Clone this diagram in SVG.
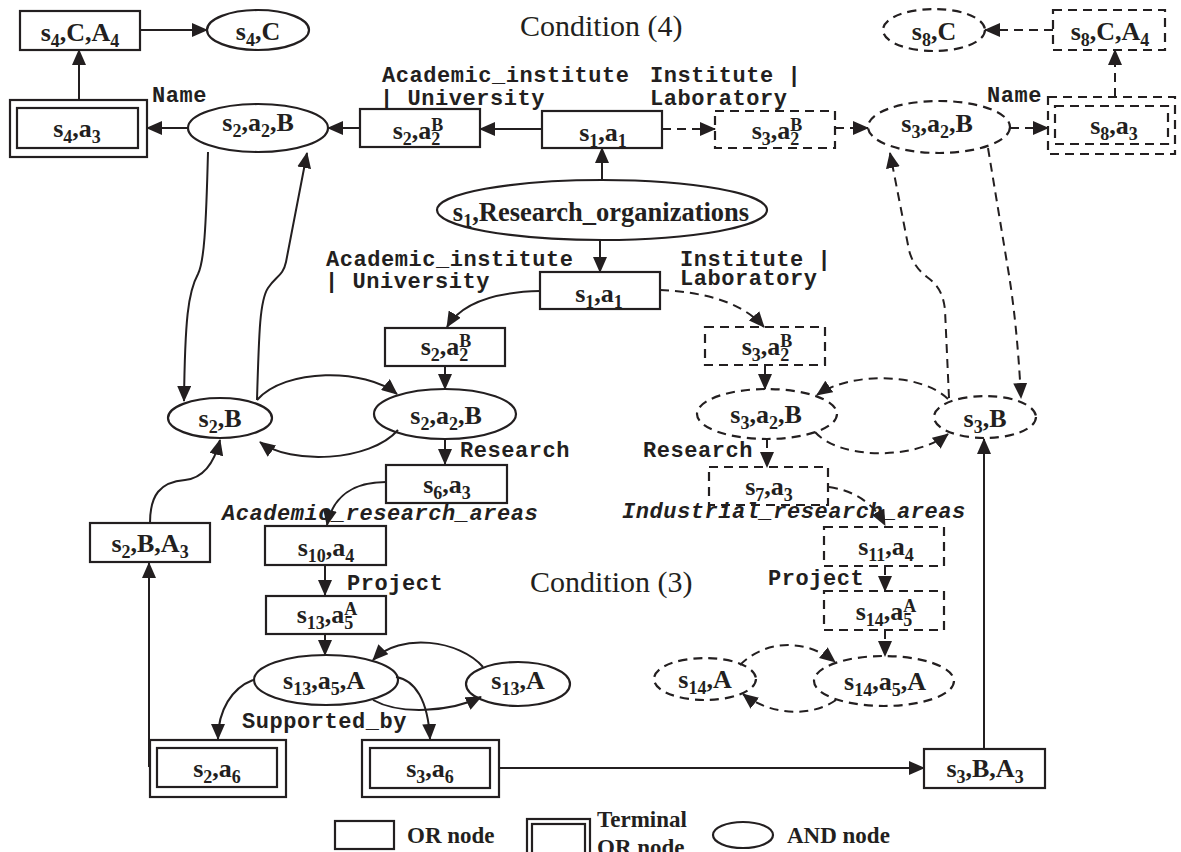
<svg xmlns="http://www.w3.org/2000/svg" width="1181" height="852" viewBox="0 0 1181 852">
<style>
.n{fill:none;stroke:#231f20;stroke-width:2.2}
.d{stroke-dasharray:9 6}
.c{fill:none;stroke:#231f20;stroke-width:2;marker-end:url(#a)}
.l{fill:none;stroke:#231f20;stroke-width:2}
.t{font-family:"Times New Roman","Liberation Serif",serif;font-weight:bold;font-size:26px;fill:#231f20;text-anchor:middle}
.s{font-size:18px}
.m{font-family:"Courier New","Liberation Mono",monospace;font-weight:bold;font-size:22px;letter-spacing:0.55px;fill:#231f20}
.i{font-style:italic}
.cond{font-family:"Times New Roman","Liberation Serif",serif;font-size:30px;fill:#231f20}
.lg{font-family:"Times New Roman","Liberation Serif",serif;font-weight:bold;font-size:23px;fill:#231f20}
</style>
<defs>
<marker id="a" markerWidth="16" markerHeight="14" refX="15" refY="7" orient="auto" markerUnits="userSpaceOnUse"><path d="M0,0 L16,7 L0,14 z" fill="#231f20"/></marker>
</defs>
<rect width="1181" height="852" fill="#fff"/>

<g id="labels">
<text class="cond" x="520" y="36">Condition (4)</text>
<text class="cond" x="530" y="592">Condition (3)</text>
<text class="m" x="382" y="82">Academic_institute</text>
<text class="m" x="380" y="105">| University</text>
<text class="m" x="650" y="82">Institute |</text>
<text class="m" x="650" y="105">Laboratory</text>
<text class="m" x="152" y="102">Name</text>
<text class="m" x="987" y="102">Name</text>
<text class="m" x="326" y="266">Academic_institute</text>
<text class="m" x="325" y="288">| University</text>
<text class="m" x="680" y="266">Institute |</text>
<text class="m" x="680" y="285">Laboratory</text>
<text class="m" x="460" y="457">Research</text>
<text class="m" x="643" y="457">Research</text>
<text class="m i" x="222" y="520">Academic_research_areas</text>
<text class="m i" x="622" y="518">Industrial_research_areas</text>
<text class="m" x="347" y="590">Project</text>
<text class="m" x="768" y="585">Project</text>
<text class="m" x="242" y="728">Supported_by</text>
</g>

<g id="connectors">
<path class="c" d="M140,30 L207,30"/>
<path class="c" d="M79,100 L79,50"/>
<path class="c" d="M187,128 L147,128"/>
<path class="c" d="M360,128 L328,128"/>
<path class="c" d="M542,129 L480,129"/>
<path class="c" d="M602,180 L602,148"/>
<path class="c d" d="M662,129 L715,129"/>
<path class="c d" d="M835,128 L868,128"/>
<path class="c d" d="M1010,128 L1048,128"/>
<path class="c d" d="M1115,97 L1115,50"/>
<path class="c d" d="M1053,30 L985,30"/>
<path class="c" d="M600,240 L600,272"/>
<path class="c" d="M208,152 C206,230 204,262 198,274 C188,292 185,320 184,401"/>
<path class="c" d="M257,400 C259,330 260,300 268,288 C276,276 283,276 286,262 L307,153"/>
<path class="c" d="M257,400 C285,368 365,368 397,394"/>
<path class="c" d="M398,430 C370,462 290,465 260,442"/>
<path class="c" d="M540,291 C495,292 462,302 447,327"/>
<path class="c" d="M445,366 L445,389"/>
<path class="c" d="M445,439 L445,464"/>
<path class="c" d="M386,482 C355,482 333,495 327,525"/>
<path class="c" d="M325,565 L325,595"/>
<path class="c" d="M325,634 L325,655"/>
<path class="c" d="M483,667 C460,640 400,632 373,660"/>
<path class="c" d="M373,700 C400,715 450,712 481,697"/>
<path class="c" d="M253,680 C232,688 218,710 218,739"/>
<path class="c" d="M396,677 C415,680 428,700 430,739"/>
<path class="c" d="M149,767 L149,563"/>
<path class="c" d="M150,523 C150,495 160,482 185,480 C205,478 215,460 220,440"/>
<path class="c" d="M499,768 L924,768"/>
<path class="c" d="M984,749 L984,439"/>
<path class="c d" d="M660,290 C700,292 740,300 764,327"/>
<path class="c d" d="M765,365 L765,389"/>
<path class="c d" d="M948,399 C920,372 850,372 817,395"/>
<path class="c d" d="M815,432 C840,460 915,460 948,434"/>
<path class="c d" d="M949,398 L945,310 C943,290 935,283 927,277 C918,270 912,262 909,250 L890,153"/>
<path class="c d" d="M988,148 L1009,275 C1013,300 1018,340 1021,398"/>
<path class="c d" d="M767,439 L767,467"/>
<path class="c d" d="M829,487 C850,490 872,500 885,525"/>
<path class="c d" d="M885,566 L885,591"/>
<path class="c d" d="M885,630 L885,656"/>
<path class="c d" d="M740,665 C765,640 805,638 835,662"/>
<path class="c d" d="M836,700 C810,718 770,715 743,694"/>
</g>

<g id="n_s4CA4"><rect class="n" x="20" y="11" width="120" height="39"/><text class="t" x="80" y="41">s<tspan class="s" dy="6">4</tspan><tspan dy="-6">,C,A</tspan><tspan class="s" dy="6">4</tspan></text></g>
<g id="n_s4C"><ellipse class="n" cx="258" cy="30" rx="51" ry="20"/><text class="t" x="258" y="40">s<tspan class="s" dy="6">4</tspan><tspan dy="-6">,C</tspan></text></g>
<g id="n_s4a3"><rect class="n" x="10" y="100" width="137" height="57"/><rect class="n" x="17" y="108" width="121" height="40"/><text class="t" x="77" y="137">s<tspan class="s" dy="6">4</tspan><tspan dy="-6">,a</tspan><tspan class="s" dy="6">3</tspan></text></g>
<g id="n_s2a2B_top"><ellipse class="n" cx="258" cy="128" rx="70" ry="24"/><text class="t" x="258" y="131">s<tspan class="s" dy="6">2</tspan><tspan dy="-6">,a</tspan><tspan class="s" dy="6">2</tspan><tspan dy="-6">,B</tspan></text></g>
<g id="n_s2a2b_top"><rect class="n" x="360" y="109" width="120" height="38"/><text class="t" x="418" y="139">s<tspan class="s" dy="6">2</tspan><tspan dy="-6">,a</tspan><tspan class="s" dy="6">2</tspan><tspan class="s" dx="-9" dy="-14">B</tspan></text></g>
<g id="n_s1a1_top"><rect class="n" x="542" y="111" width="120" height="37"/><text class="t" x="603" y="141">s<tspan class="s" dy="6">1</tspan><tspan dy="-6">,a</tspan><tspan class="s" dy="6">1</tspan></text></g>
<g id="n_s3a2b_top"><rect class="n d" x="715" y="111" width="120" height="37"/><text class="t" x="777" y="139">s<tspan class="s" dy="6">3</tspan><tspan dy="-6">,a</tspan><tspan class="s" dy="6">2</tspan><tspan class="s" dx="-9" dy="-14">B</tspan></text></g>
<g id="n_s3a2B_top"><ellipse class="n d" cx="939" cy="127" rx="71" ry="26"/><text class="t" x="937" y="132">s<tspan class="s" dy="6">3</tspan><tspan dy="-6">,a</tspan><tspan class="s" dy="6">2</tspan><tspan dy="-6">,B</tspan></text></g>
<g id="n_s8a3"><rect class="n d" x="1048" y="97" width="127" height="57"/><rect class="n d" x="1055" y="106" width="113" height="38"/><text class="t" x="1114" y="134">s<tspan class="s" dy="6">8</tspan><tspan dy="-6">,a</tspan><tspan class="s" dy="6">3</tspan></text></g>
<g id="n_s8CA4"><rect class="n d" x="1053" y="10" width="112" height="40"/><text class="t" x="1110" y="40">s<tspan class="s" dy="6">8</tspan><tspan dy="-6">,C,A</tspan><tspan class="s" dy="6">4</tspan></text></g>
<g id="n_s8C"><ellipse class="n d" cx="934" cy="30" rx="51" ry="21"/><text class="t" x="934" y="40">s<tspan class="s" dy="6">8</tspan><tspan dy="-6">,C</tspan></text></g>
<g id="n_s1RO"><ellipse class="n" cx="602" cy="210" rx="165" ry="30"/><text class="t" x="601" y="221" style="font-size:26.5px">s<tspan class="s" dy="6">1</tspan><tspan dy="-6">,Research_organizations</tspan></text></g>

<g id="n_s1a1_low"><rect class="n" x="540" y="272" width="120" height="37"/><text class="t" x="599" y="302">s<tspan class="s" dy="6">1</tspan><tspan dy="-6">,a</tspan><tspan class="s" dy="6">1</tspan></text></g>
<g id="n_s2a2b_low"><rect class="n" x="385" y="328" width="120" height="38"/><text class="t" x="446" y="355">s<tspan class="s" dy="6">2</tspan><tspan dy="-6">,a</tspan><tspan class="s" dy="6">2</tspan><tspan class="s" dx="-9" dy="-14">B</tspan></text></g>
<g id="n_s2a2B_low"><ellipse class="n" cx="445" cy="414" rx="71" ry="25"/><text class="t" x="446" y="424">s<tspan class="s" dy="6">2</tspan><tspan dy="-6">,a</tspan><tspan class="s" dy="6">2</tspan><tspan dy="-6">,B</tspan></text></g>
<g id="n_s2B"><ellipse class="n" cx="220" cy="418" rx="52" ry="20"/><text class="t" x="220" y="427">s<tspan class="s" dy="6">2</tspan><tspan dy="-6">,B</tspan></text></g>
<g id="n_s6a3"><rect class="n" x="386" y="465" width="121" height="38"/><text class="t" x="447" y="493">s<tspan class="s" dy="6">6</tspan><tspan dy="-6">,a</tspan><tspan class="s" dy="6">3</tspan></text></g>
<g id="n_s10a4"><rect class="n" x="265" y="526" width="121" height="39"/><text class="t" x="326" y="556">s<tspan class="s" dy="6">10</tspan><tspan dy="-6">,a</tspan><tspan class="s" dy="6">4</tspan></text></g>
<g id="n_s2BA3"><rect class="n" x="90" y="523" width="120" height="39"/><text class="t" x="150" y="552">s<tspan class="s" dy="6">2</tspan><tspan dy="-6">,B,A</tspan><tspan class="s" dy="6">3</tspan></text></g>
<g id="n_s13a5a"><rect class="n" x="266" y="596" width="120" height="38"/><text class="t" x="327" y="623">s<tspan class="s" dy="6">13</tspan><tspan dy="-6">,a</tspan><tspan class="s" dy="6">5</tspan><tspan class="s" dx="-9" dy="-14">A</tspan></text></g>
<g id="n_s13a5A"><ellipse class="n" cx="326" cy="680" rx="72" ry="25"/><text class="t" x="324" y="689">s<tspan class="s" dy="6">13</tspan><tspan dy="-6">,a</tspan><tspan class="s" dy="6">5</tspan><tspan dy="-6">,A</tspan></text></g>
<g id="n_s13A"><ellipse class="n" cx="518" cy="684" rx="52" ry="22"/><text class="t" x="518" y="689">s<tspan class="s" dy="6">13</tspan><tspan dy="-6">,A</tspan></text></g>
<g id="n_s2a6"><rect class="n" x="150" y="740" width="136" height="57"/><rect class="n" x="157" y="748" width="120" height="39"/><text class="t" x="217" y="777">s<tspan class="s" dy="6">2</tspan><tspan dy="-6">,a</tspan><tspan class="s" dy="6">6</tspan></text></g>
<g id="n_s3a6"><rect class="n" x="362" y="740" width="137" height="57"/><rect class="n" x="370" y="748" width="120" height="40"/><text class="t" x="430" y="777">s<tspan class="s" dy="6">3</tspan><tspan dy="-6">,a</tspan><tspan class="s" dy="6">6</tspan></text></g>
<g id="n_s3BA3"><rect class="n" x="924" y="749" width="121" height="39"/><text class="t" x="985" y="777">s<tspan class="s" dy="6">3</tspan><tspan dy="-6">,B,A</tspan><tspan class="s" dy="6">3</tspan></text></g>
<g id="n_s3B"><ellipse class="n d" cx="985" cy="417" rx="51" ry="21"/><text class="t" x="985" y="427">s<tspan class="s" dy="6">3</tspan><tspan dy="-6">,B</tspan></text></g>
<g id="n_s3a2b_low"><rect class="n d" x="705" y="327" width="120" height="38"/><text class="t" x="767" y="355">s<tspan class="s" dy="6">3</tspan><tspan dy="-6">,a</tspan><tspan class="s" dy="6">2</tspan><tspan class="s" dx="-9" dy="-14">B</tspan></text></g>
<g id="n_s3a2B_low"><ellipse class="n d" cx="767" cy="414" rx="70" ry="25"/><text class="t" x="766" y="423">s<tspan class="s" dy="6">3</tspan><tspan dy="-6">,a</tspan><tspan class="s" dy="6">2</tspan><tspan dy="-6">,B</tspan></text></g>
<g id="n_s7a3"><rect class="n d" x="709" y="467" width="119" height="38"/><text class="t" x="769" y="495">s<tspan class="s" dy="6">7</tspan><tspan dy="-6">,a</tspan><tspan class="s" dy="6">3</tspan></text></g>
<g id="n_s11a4"><rect class="n d" x="824" y="527" width="120" height="39"/><text class="t" x="886" y="555">s<tspan class="s" dy="6">11</tspan><tspan dy="-6">,a</tspan><tspan class="s" dy="6">4</tspan></text></g>
<g id="n_s14a5a"><rect class="n d" x="824" y="591" width="120" height="39"/><text class="t" x="886" y="620">s<tspan class="s" dy="6">14</tspan><tspan dy="-6">,a</tspan><tspan class="s" dy="6">5</tspan><tspan class="s" dx="-9" dy="-14">A</tspan></text></g>
<g id="n_s14a5A"><ellipse class="n d" cx="884" cy="681" rx="70" ry="25"/><text class="t" x="885" y="690">s<tspan class="s" dy="6">14</tspan><tspan dy="-6">,a</tspan><tspan class="s" dy="6">5</tspan><tspan dy="-6">,A</tspan></text></g>
<g id="n_s14A"><ellipse class="n d" cx="705" cy="679" rx="51" ry="21"/><text class="t" x="705" y="688">s<tspan class="s" dy="6">14</tspan><tspan dy="-6">,A</tspan></text></g>

<g id="legend">
<rect class="n" x="335" y="821" width="59" height="28"/>
<text class="lg" x="407" y="843">OR node</text>
<rect class="n" x="527" y="819" width="63" height="40"/>
<rect class="n" x="532" y="824" width="53" height="30"/>
<text class="lg" x="597" y="827">Terminal</text>
<text class="lg" x="597" y="855">OR node</text>
<ellipse class="n" cx="743" cy="835" rx="30" ry="13"/>
<text class="lg" x="787" y="843">AND node</text>
</g>
</svg>
